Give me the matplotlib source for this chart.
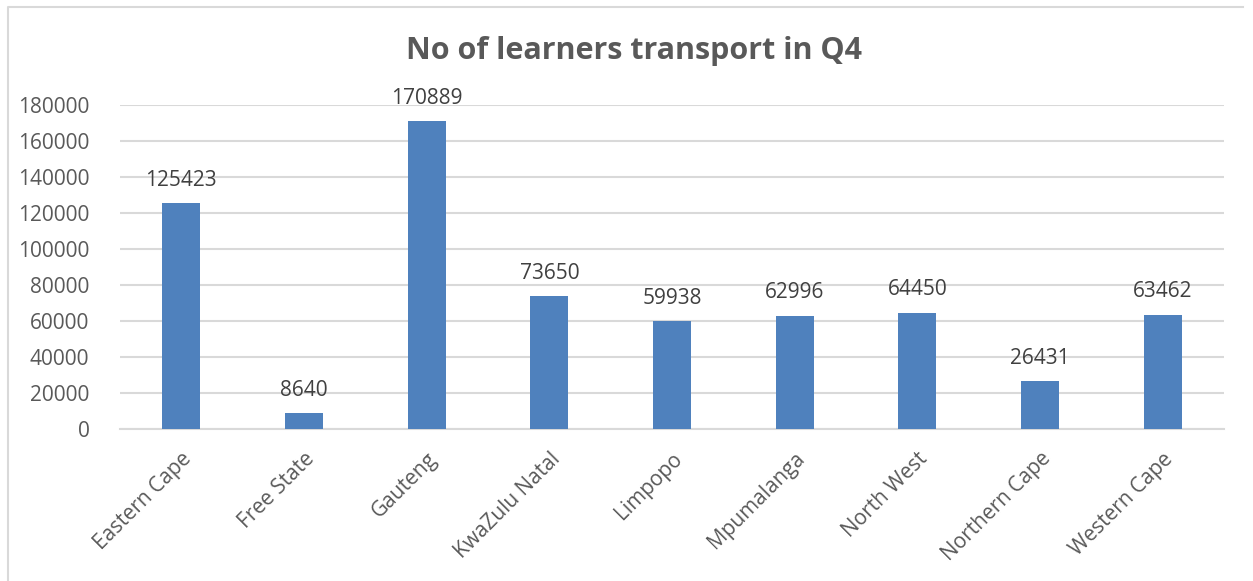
import matplotlib.pyplot as plt
from matplotlib.lines import Line2D

plt.rcParams['font.family'] = ['Open Sans', 'DejaVu Sans']

provinces = ["Eastern Cape", "Free State", "Gauteng", "KwaZulu Natal", "Limpopo",
             "Mpumalanga", "North West", "Northern Cape", "Western Cape"]
learners = [125423, 8640, 170889, 73650, 59938, 62996, 64450, 26431, 63462]
y_ticks = [0, 20000, 40000, 60000, 80000, 100000, 120000, 140000, 160000, 180000]

W, H = 1253, 581
fig = plt.figure(figsize=(W / 100, H / 100), dpi=100)
ax = fig.add_axes([120 / W, 1 - 429 / H, (1224 - 120) / W, (429 - 105) / H])

x = range(len(provinces))
bars = ax.bar(x, learners, width=0.31, color="#4F81BD", zorder=3)

for xi, v in zip(x, learners):
    ax.annotate(str(v), (xi, v), xytext=(0, 9), textcoords="offset points",
                ha="center", va="bottom", fontsize=15, color="#404040")

ax.set_xlim(-0.5, len(provinces) - 0.5)
ax.set_ylim(0, 180000)
ax.set_yticks(y_ticks)
ax.set_yticklabels([str(t) for t in y_ticks], fontsize=15, color="#595959")
ax.set_xticks(list(x))
ax.set_xticklabels(provinces, rotation=45, ha="right", rotation_mode="anchor",
                   fontsize=15, color="#595959")
ax.tick_params(axis="both", length=0)
ax.tick_params(axis="y", pad=22)
ax.tick_params(axis="x", pad=14)
ax.grid(axis="y", color="#D9D9D9", linewidth=1.5, zorder=0)
for s in ["top", "right", "left"]:
    ax.spines[s].set_visible(False)
ax.spines["bottom"].set_color("#D9D9D9")
ax.spines["bottom"].set_linewidth(1.5)

fig.text(634 / W, 1 - 51 / H, "No of learners transport in Q4", ha="center", va="center",
         fontsize=22, fontweight="bold", color="#595959")

# outer chart border (cropped on the right and bottom)
bx0, bx1, by = 7.5 / W, 1243 / W, 1 - 6.5 / H
fig.add_artist(Line2D([bx0, bx0, bx1], [0, by, by], transform=fig.transFigure,
                      color="#D9D9D9", linewidth=1.5))

fig.savefig("out.png", dpi=100)
